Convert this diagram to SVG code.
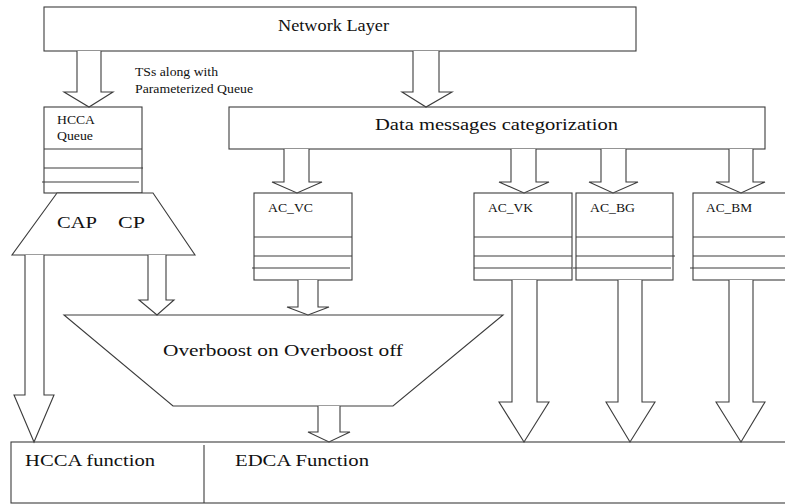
<svg xmlns="http://www.w3.org/2000/svg" width="785" height="504" viewBox="0 0 785 504">
  <style>
    .box { fill: #fff; stroke: #3c3c3c; stroke-width: 1.1; }
    .ln { stroke: #3c3c3c; stroke-width: 1.1; fill: none; }
    .arr { fill: #fff; stroke: #3c3c3c; stroke-width: 1.1; stroke-linejoin: miter; }
    text { font-family: "Liberation Serif", "Times New Roman", serif; fill: #111; }
    .big { font-size: 17px; }
    .small { font-size: 12px; }
  </style>
  <rect width="785" height="504" fill="#fff"/>

  <!-- bottom MAC functions -->
  <g id="mac-functions">
    <rect class="box" x="11" y="442" width="790" height="61"/>
    <line class="ln" x1="204" y1="445" x2="204" y2="503"/>
    <text class="big" x="25" y="466" textLength="130" lengthAdjust="spacingAndGlyphs">HCCA function</text>
    <text class="big" x="235" y="466" textLength="134" lengthAdjust="spacingAndGlyphs">EDCA Function</text>
  </g>

  <g id="network-layer">
    <rect class="box" x="44" y="7" width="592" height="44"/>
    <text class="big" x="278" y="31" font-size="18" textLength="111" lengthAdjust="spacingAndGlyphs">Network Layer</text>
  </g>

  <g id="ts-label">
    <text class="small" x="135" y="76" textLength="83" lengthAdjust="spacingAndGlyphs">TSs along with</text>
    <text class="small" x="135" y="93" textLength="118" lengthAdjust="spacingAndGlyphs">Parameterized Queue</text>
  </g>

  <g id="hcca-queue">
    <rect class="box" x="44" y="107" width="98" height="86"/>
    <line class="ln" x1="44" y1="149" x2="142" y2="149"/>
    <line class="ln" x1="44" y1="168" x2="143" y2="168"/>
    <line class="ln" x1="42" y1="182" x2="139" y2="182"/>
    <text class="small" x="57" y="124" textLength="38" lengthAdjust="spacingAndGlyphs">HCCA</text>
    <text class="small" x="57" y="140" textLength="36" lengthAdjust="spacingAndGlyphs">Queue</text>
  </g>

  <g id="data-categorization">
    <rect class="box" x="229" y="107" width="536" height="42"/>
    <text class="big" x="375" y="130" textLength="243" lengthAdjust="spacingAndGlyphs">Data messages categorization</text>
  </g>

  <g id="cap-cp">
    <polygon class="box" points="57,193 153,193 195,255 12,255"/>
    <text class="big" x="57" y="228" font-size="18" textLength="40" lengthAdjust="spacingAndGlyphs">CAP</text>
    <text class="big" x="118" y="228" font-size="18" textLength="27" lengthAdjust="spacingAndGlyphs">CP</text>
  </g>

  <g id="ac-vc">
    <rect class="box" x="254" y="193" width="98" height="87"/>
    <line class="ln" x1="254" y1="237" x2="352" y2="237"/>
    <line class="ln" x1="254" y1="256" x2="352" y2="256"/>
    <line class="ln" x1="252" y1="268" x2="350" y2="268"/>
    <text class="small" x="268" y="212" textLength="45" lengthAdjust="spacingAndGlyphs">AC_VC</text>
  </g>

  <g id="ac-vk">
    <rect class="box" x="474" y="193" width="98" height="87"/>
    <line class="ln" x1="474" y1="237" x2="572" y2="237"/>
    <line class="ln" x1="474" y1="256" x2="572" y2="256"/>
    <line class="ln" x1="474" y1="268" x2="572" y2="268"/>
    <text class="small" x="488" y="212" textLength="45" lengthAdjust="spacingAndGlyphs">AC_VK</text>
  </g>

  <g id="ac-bg">
    <rect class="box" x="576" y="193" width="97" height="87"/>
    <line class="ln" x1="576" y1="237" x2="673" y2="237"/>
    <line class="ln" x1="576" y1="256" x2="675" y2="256"/>
    <line class="ln" x1="573" y1="268" x2="671" y2="268"/>
    <text class="small" x="590" y="212" textLength="45" lengthAdjust="spacingAndGlyphs">AC_BG</text>
  </g>

  <g id="ac-bm">
    <rect class="box" x="693" y="193" width="110" height="87"/>
    <line class="ln" x1="693" y1="237" x2="785" y2="237"/>
    <line class="ln" x1="693" y1="256" x2="785" y2="256"/>
    <line class="ln" x1="690" y1="268" x2="785" y2="268"/>
    <text class="small" x="706" y="212" textLength="46" lengthAdjust="spacingAndGlyphs">AC_BM</text>
  </g>

  <g id="overboost">
    <polygon class="box" points="64,315 503,315 393,406 173,406"/>
    <text class="big" x="163" y="356" textLength="240" lengthAdjust="spacingAndGlyphs">Overboost on  Overboost off</text>
  </g>

  <!-- block arrows: open-topped outlines -->
  <g id="connectors">
    <path class="arr" d="M77,51 V92 H64 L89,107 L113,92 H101 V51"/>
    <path class="arr" d="M413,51 V92 H402 L426,107 L452,92 H439 V51"/>
    <path class="arr" d="M284,149 V182 H272 L297,193 L322,182 H309 V149"/>
    <path class="arr" d="M511,149 V182 H499 L524,193 L549,182 H536 V149"/>
    <path class="arr" d="M601,149 V182 H589 L613,193 L638,182 H626 V149"/>
    <path class="arr" d="M729,149 V182 H716 L741,193 L765,182 H753 V149"/>
    <path class="arr" d="M25,255 V395 H14 L34,442 L54,395 H44 V255"/>
    <path class="arr" d="M148,255 V300 H139 L157,315 L174,300 H166 V255"/>
    <path class="arr" d="M298,280 V307 H287 L308,315 L329,307 H318 V280"/>
    <path class="arr" d="M318,406 V432 H308 L329,442 L350,432 H340 V406"/>
    <path class="arr" d="M512,280 V402 H499 L524,442 L549,402 H537 V280"/>
    <path class="arr" d="M618,280 V402 H606 L630,442 L655,402 H642 V280"/>
    <path class="arr" d="M729,280 V402 H716 L741,442 L765,402 H753 V280"/>
  </g>
</svg>
